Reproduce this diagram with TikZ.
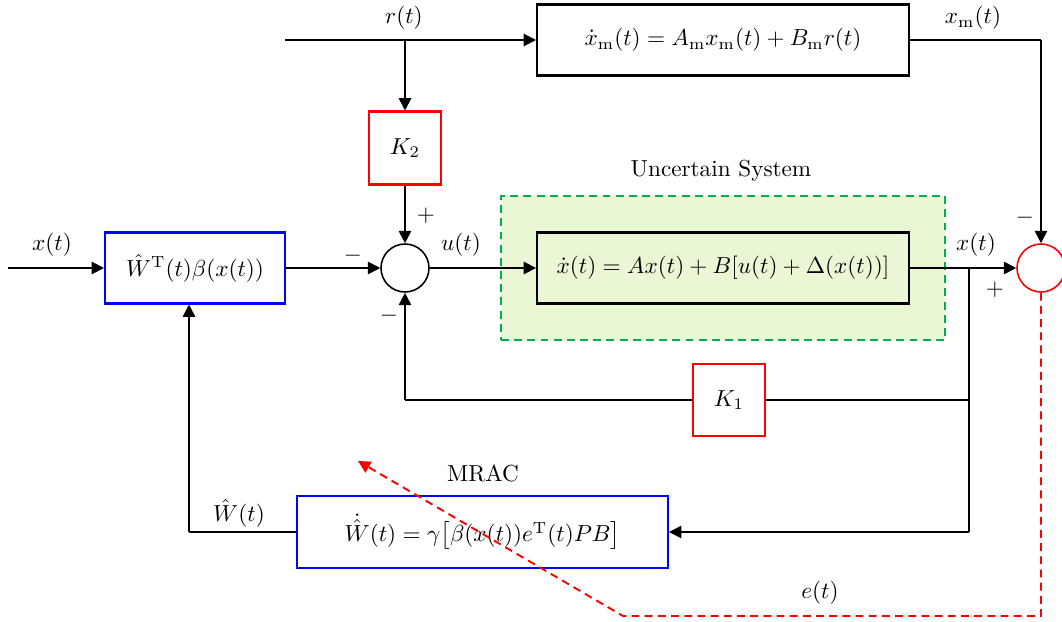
\documentclass[tikz,border=0pt]{standalone}
\usetikzlibrary{arrows.meta,positioning}
\definecolor{mygreen}{RGB}{0,176,80}
\definecolor{myfill}{RGB}{234,247,212}
\newcommand\mth[1]{\scalebox{1.32}{$#1$}}
\newcommand\txt[1]{\scalebox{1.32}{#1}}
\begin{document}
\begin{tikzpicture}[x=0.02cm,y=-0.02cm,font=\normalsize,
  blk/.style={draw,line width=1.15pt,inner sep=0pt},
  circ/.style={draw,circle,line width=0.9pt,minimum size=0.96cm,inner sep=0pt},
  main/.style={line width=1.1pt,-{Triangle[length=7pt,width=7pt]}},
  thin/.style={line width=0.75pt},
  thinarr/.style={line width=0.75pt,-{Triangle[length=7pt,width=7pt]}},
  errline/.style={red,line width=1.1pt,dash pattern=on 4.5pt off 3pt,-{Triangle[length=7pt,width=7pt]}},
  lbl/.style={inner sep=0pt}]
\useasboundingbox (0,0) rectangle (1062,622);
% uncertain system background
\node[draw=mygreen,fill=myfill,line width=1.1pt,dash pattern=on 4.5pt off 3pt,minimum width=8.88cm,minimum height=2.88cm,inner sep=0pt] (unc) at (723,268) {};
\node[lbl] (unclbl) at (721,171) {\txt{Uncertain System}};
% blocks
\node[blk,minimum width=7.44cm,minimum height=1.42cm] (refm) at (723,40) {\mth{\dot{x}_{\mathrm{m}}(t)=A_{\mathrm{m}}x_{\mathrm{m}}(t)+B_{\mathrm{m}}r(t)}};
\node[blk,draw=red,minimum width=1.44cm,minimum height=1.46cm] (K2) at (405,148) {\mth{K_2}};
\node[circ] (sum) at (405,268) {};
\node[blk,draw=blue,minimum width=3.6cm,minimum height=1.42cm] (W) at (195,268) {\mth{\hat{W}^{\mathrm{T}}(t)\beta(x(t))}};
\node[blk,fill=myfill,minimum width=7.44cm,minimum height=1.42cm] (plant) at (723,268) {\mth{\dot{x}(t)=Ax(t)+B[u(t)+\Delta(x(t))]}};
\node[circ,draw=red] (err) at (1041,268) {};
\node[blk,draw=red,minimum width=1.44cm,minimum height=1.44cm] (K1) at (729,400) {\mth{K_1}};
\node[blk,draw=blue,minimum width=7.42cm,minimum height=1.44cm] (mrac) at (482.5,532) {\mth{\dot{\hat{W}}(t)=\gamma\bigl[\beta(x(t))e^{\mathrm{T}}(t)PB\bigr]}};
\node[lbl] (mraclbl) at (483,473) {\txt{MRAC}};
% coordinates
\coordinate (rin) at (285,40);
\coordinate (rbr) at (405,40);
\coordinate (xin) at (8,268);
\coordinate (xmc) at (1041,40);
\coordinate (xbr) at (969,268);
\coordinate (k1r) at (969,400);
\coordinate (k1l) at (405,400);
\coordinate (mr) at (969,532);
\coordinate (wc) at (189,532);
\coordinate (e1) at (1041,616);
\coordinate (e2) at (623,616);
\coordinate (eend) at (358,461);
% connectors
\draw[main] (rin) -- (refm.west);
\draw[main] (rbr) -- (K2.north);
\draw[main] (K2.south) -- (sum.north);
\draw[main] (xin) -- (W.west);
\draw[main] (W.east) -- (sum.west);
\draw[main] (sum.east) -- (plant.west);
\draw[main] (plant.east) -- (err.west);
\draw[line width=0.9pt] (refm.east) -- (xmc);
\draw[main,line width=0.9pt] (xmc) -- (err.north);
\draw[thin] (xbr) -- (mr);
\draw[thin] (k1r) -- (K1.east);
\draw[thin] (K1.west) -- (k1l);
\draw[main,line width=0.9pt] (k1l) -- (sum.south);
\draw[thinarr] (mr) -- (mrac.east);
\draw[thin] (mrac.west) -- (wc);
\draw[main,line width=0.9pt] (wc) -- (W.south -| wc);
\draw[errline] (err.south) -- (e1) -- (e2) -- (eend);
% labels
\node[lbl] (lr) at (404,18) {\mth{r(t)}};
\node[lbl] (lxm) at (973,18) {\mth{x_{\mathrm{m}}(t)}};
\node[lbl] (lp1) at (426,216) {\mth{+}};
\node[lbl] (lx1) at (52,245) {\mth{x(t)}};
\node[lbl] (lm1) at (353,256) {\mth{-}};
\node[lbl] (lu) at (461,245) {\mth{u(t)}};
\node[lbl] (lx2) at (976,245) {\mth{x(t)}};
\node[lbl] (lp2) at (995,290) {\mth{+}};
\node[lbl] (lm2) at (1025,218) {\mth{-}};
\node[lbl] (lm3) at (389,316) {\mth{-}};
\node[lbl] (lw) at (239,513) {\mth{\hat{W}(t)}};
\node[lbl] (le) at (820,593) {\mth{e(t)}};
\end{tikzpicture}
\end{document}
